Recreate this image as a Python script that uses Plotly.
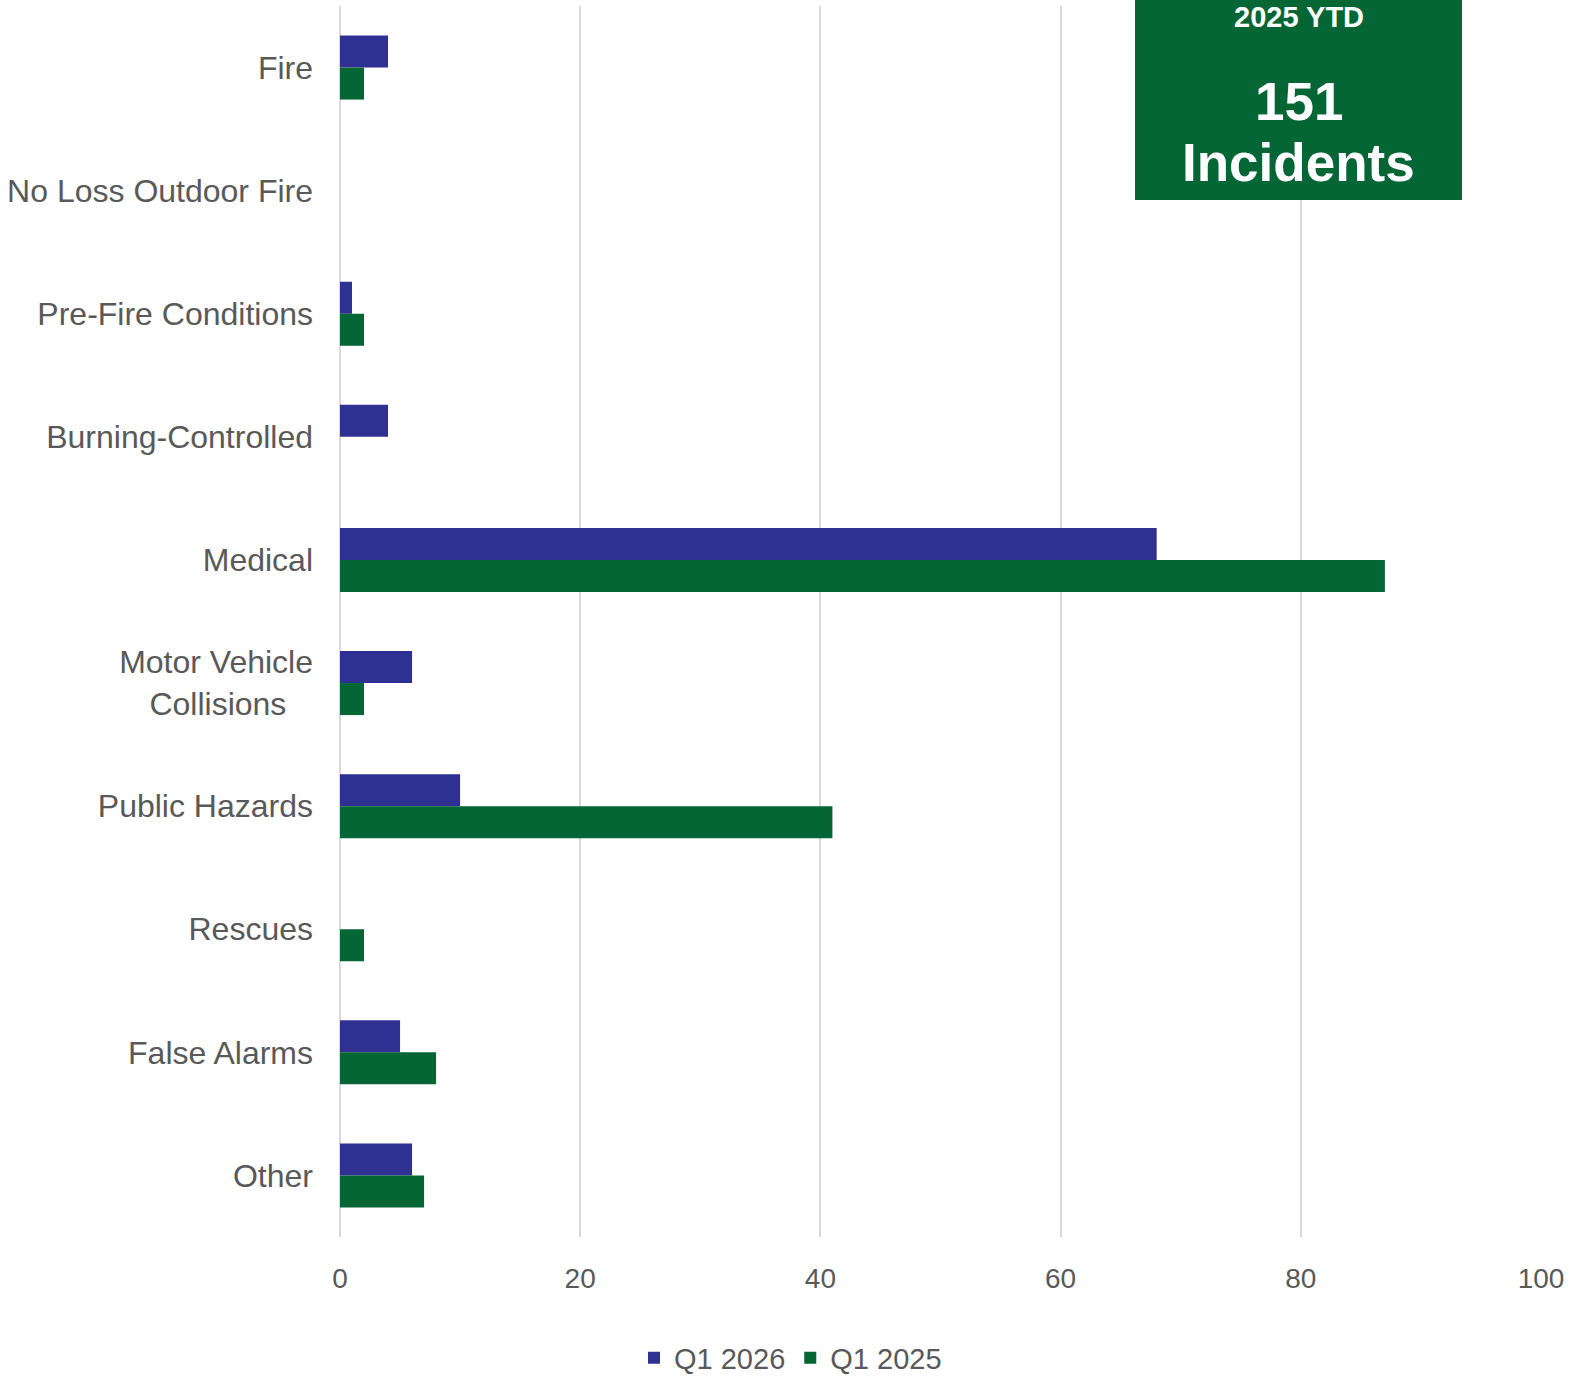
import plotly.graph_objects as go

categories = ["Fire", "No Loss Outdoor Fire", "Pre-Fire Conditions", "Burning-Controlled",
              "Medical", "Motor Vehicle<br>Collisions\u00a0\u00a0\u00a0", "Public Hazards", "Rescues",
              "False Alarms", "Other"]
q1_2026 = [4, 0, 1, 4, 68, 6, 10, 0, 5, 6]
q1_2025 = [2, 0, 2, 0, 87, 2, 41, 2, 8, 7]
x_ticks = [0, 20, 40, 60, 80, 100]
box_lines = ["2025 YTD", "151", "Incidents"]

BLUE = "#2E3192"
GREEN = "#046535"
GRAY = "#595959"
FONT = "Liberation Sans, Arial, sans-serif"

W, H = 1581, 1376
L, R, T, B = 340, 40, 6, 139
plot_h = H - T - B


def py(px):
    return (H - B - px) / plot_h


def px_x(px):
    return (px - L) / (W - L - R)


fig = go.Figure()
fig.add_trace(go.Bar(name="Q1 2026", y=categories, x=q1_2026, orientation="h",
                     marker=dict(color=BLUE, line=dict(width=0))))
fig.add_trace(go.Bar(name="Q1 2025", y=categories, x=q1_2025, orientation="h",
                     marker=dict(color=GREEN, line=dict(width=0))))

fig.update_layout(
    width=W, height=H,
    margin=dict(l=L, r=R, t=T, b=B),
    paper_bgcolor="white", plot_bgcolor="white",
    barmode="group", bargap=0.48, bargroupgap=0,
    font=dict(family=FONT, color=GRAY),
    showlegend=True,
    legend=dict(orientation="h", xref="container", yref="container",
                x=0.5, xanchor="center", y=1 - 1358 / H, yanchor="middle",
                font=dict(size=29, color=GRAY), traceorder="normal"),
    xaxis=dict(range=[0, 100], tickvals=x_ticks, showgrid=True, gridcolor="#D9D9D9",
               gridwidth=1.5, zeroline=True, zerolinecolor="#D9D9D9", zerolinewidth=1.5,
               showline=False, ticks="", tickfont=dict(size=28, color=GRAY),
               ticklabelstandoff=22, fixedrange=True),
    yaxis=dict(type="category", autorange="reversed", showgrid=False, zeroline=False,
               showline=False, ticks="", tickfont=dict(size=32, color=GRAY),
               ticklabelstandoff=26),
)

fig.add_shape(type="rect", xref="paper", yref="paper",
              x0=px_x(1135), x1=px_x(1462), y0=py(200), y1=py(-5),
              fillcolor=GREEN, line=dict(width=0), layer="above")

box_centers = [17.5, 101, 162]
box_sizes = [29, 53, 53]
for txt, cy, fs in zip(box_lines, box_centers, box_sizes):
    fig.add_annotation(text="<b>%s</b>" % txt, xref="paper", yref="paper",
                       x=px_x(1298.5), y=py(cy), xanchor="center", yanchor="middle",
                       showarrow=False, font=dict(size=fs, color="white", family=FONT))

fig.write_html("out.html", config={"displayModeBar": False},
               post_script="document.body.style.margin='0';document.body.style.overflow='hidden';")
